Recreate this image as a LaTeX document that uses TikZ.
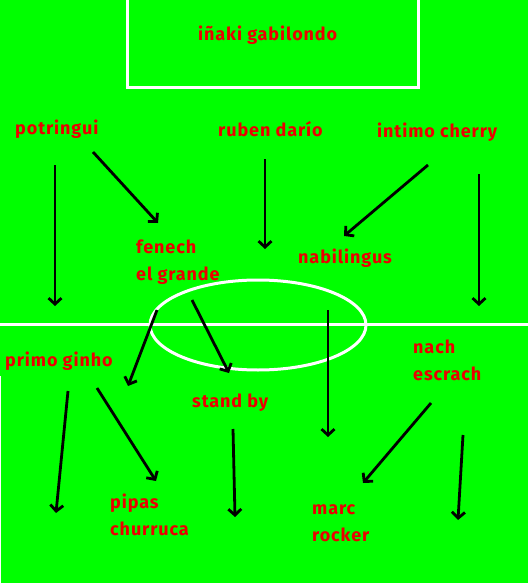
\documentclass[tikz,border=0pt]{standalone}
\usepackage{fontspec}
\setmainfont[LetterSpace=5]{Fira Sans}
\usetikzlibrary{arrows.meta}
\definecolor{pitch}{RGB}{0,255,0}
\definecolor{txtred}{RGB}{235,0,0}
\tikzset{
  lbl/.style={text=txtred, font=\bfseries\fontsize{18}{27}\selectfont, inner sep=0pt, anchor=west, align=left},
  arr/.style={line width=2.8pt, -{Straight Barb[length=6pt,width=13pt]}},
  chalk/.style={white, line width=3pt}
}
\begin{document}
\begin{tikzpicture}[x=1pt,y=-1pt]
\fill[pitch] (0,0) rectangle (528,583);
\useasboundingbox (0,0) rectangle (528,583);
% field markings
\draw[chalk] (127,-5) -- (127,88) -- (418,88) -- (418,-5);
\draw[chalk] (0,324) -- (528,324);
\draw[chalk] (258,325) ellipse [x radius=108, y radius=45];
\draw[white, line width=1.5pt] (0.5,376) -- (0.5,590);
% names
\node[lbl] (gab) at (198,35) {iñaki gabilondo};
\node[lbl] (pot) at (15,129) {potringui};
\node[lbl] (rub) at (218,129) {ruben darío};
\node[lbl] (int) at (377,132) {intimo cherry};
\node[lbl] (fen) at (136,262) {fenech\\el grande};
\node[lbl] (nab) at (298,258) {nabilingus};
\node[lbl] (pri) at (5,361) {primo ginho};
\node[lbl] (nac) at (413,360) {nach\\escrach};
\node[lbl] (sta) at (192,403) {stand by};
\node[lbl] (pip) at (110,515) {pipas\\churruca};
\node[lbl] (mar) at (312,523) {marc\\rocker};
% arrow end points
\coordinate (a1s) at (55,165);  \coordinate (a1e) at (55,306);
\coordinate (a2s) at (93,152);  \coordinate (a2e) at (158,223);
\coordinate (a3s) at (265,159); \coordinate (a3e) at (265,249);
\coordinate (a4s) at (428,165); \coordinate (a4e) at (344,236);
\coordinate (a5s) at (479,174); \coordinate (a5e) at (479,306);
\coordinate (a6s) at (157,310); \coordinate (a6e) at (128,386);
\coordinate (a7s) at (192,300); \coordinate (a7e) at (229,373);
\coordinate (a8s) at (328,310); \coordinate (a8e) at (328,437);
\coordinate (a9s) at (68,391);  \coordinate (a9e) at (56,513);
\coordinate (a10s) at (97,388); \coordinate (a10e) at (156,481);
\coordinate (a11s) at (233,429);\coordinate (a11e) at (235,517);
\coordinate (a12s) at (431,403);\coordinate (a12e) at (363,483);
\coordinate (a13s) at (463,435);\coordinate (a13e) at (458,520);
\foreach \i in {1,...,13} \draw[arr] (a\i s) -- (a\i e);
\end{tikzpicture}
\end{document}
